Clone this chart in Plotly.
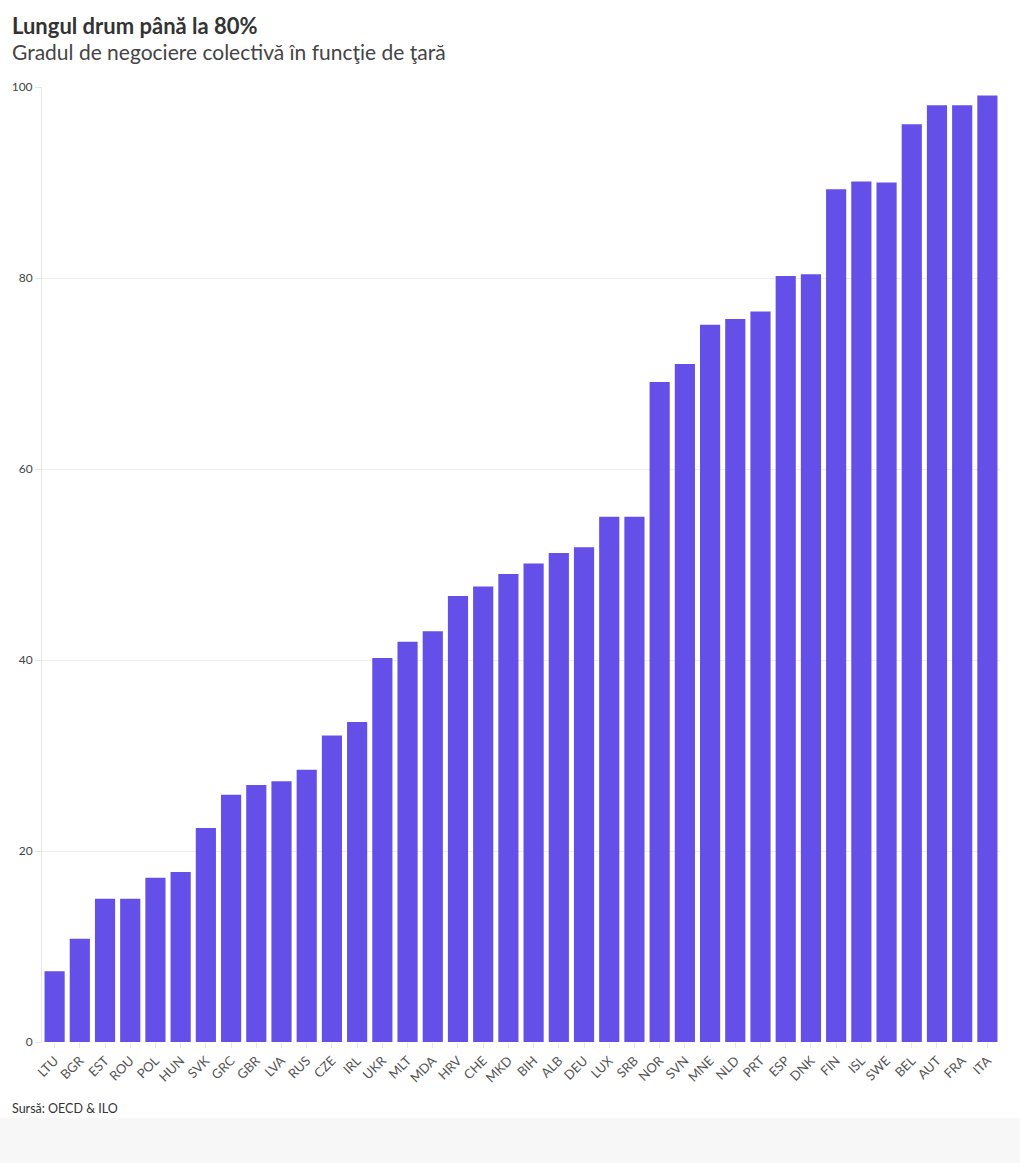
import plotly.graph_objects as go

# Gradul de negociere colectivă (%), sorted ascending
countries = ["LTU", "BGR", "EST", "ROU", "POL", "HUN", "SVK", "GRC", "GBR", "LVA",
             "RUS", "CZE", "IRL", "UKR", "MLT", "MDA", "HRV", "CHE", "MKD", "BIH",
             "ALB", "DEU", "LUX", "SRB", "NOR", "SVN", "MNE", "NLD", "PRT", "ESP",
             "DNK", "FIN", "ISL", "SWE", "BEL", "AUT", "FRA", "ITA"]
coverage = [7.4, 10.8, 15.0, 15.0, 17.2, 17.8, 22.4, 25.9, 26.9, 27.3,
            28.5, 32.1, 33.5, 40.2, 41.9, 43.0, 46.7, 47.7, 49.0, 50.1,
            51.2, 51.8, 55.0, 55.0, 69.1, 71.0, 75.1, 75.7, 76.5, 80.2,
            80.4, 89.3, 90.1, 90.0, 96.1, 98.1, 98.1, 99.1]
y_ticks = [0, 20, 40, 60, 80, 100]

FONT = "Lato, 'Noto Sans', sans-serif"
W, H = 1020, 1163
M = dict(l=42, r=20, t=87, b=121)
plot_w = W - M["l"] - M["r"]
plot_h = H - M["t"] - M["b"]


def px_x(x):
    return (x - M["l"]) / plot_w


def px_y(y):
    return (H - M["b"] - y) / plot_h


fig = go.Figure(go.Bar(x=countries, y=coverage, marker_color="#6450E8",
                       marker_line_width=0, hovertemplate="%{x}: %{y}<extra></extra>"))

fig.update_xaxes(tickangle=-45, tickfont=dict(size=13, color="#555"), ticks="outside",
                 ticklen=5, tickcolor="#e6e6e6", showgrid=False, showline=False)
fig.update_yaxes(range=[0, 100], tickvals=y_ticks, tickfont=dict(size=12, color="#444"),
                 gridcolor="#eeeeee", showline=True, linecolor="#e6e6e6", ticks="outside",
                 ticklen=6, tickcolor="#e6e6e6", zeroline=False)

# grey footer band at the bottom of the page
fig.add_shape(type="rect", xref="paper", yref="paper", x0=px_x(0), x1=px_x(W),
              y0=px_y(H), y1=px_y(1118), fillcolor="#f7f7f7", line_width=0, layer="below")

fig.update_layout(
    width=W, height=H, margin=M, bargap=0.2, template="plotly_white",
    plot_bgcolor="white", paper_bgcolor="white", font=dict(family=FONT, color="#333"),
    showlegend=False,
    annotations=[
        dict(text="<b>Lungul drum până la 80%</b>", xref="paper", yref="paper",
             x=px_x(10), y=px_y(25), xanchor="left", yanchor="middle", showarrow=False,
             font=dict(size=22, color="#333")),
        dict(text="Gradul de negociere colectivă în funcţie de ţară", xref="paper", yref="paper",
             x=px_x(10), y=px_y(51), xanchor="left", yanchor="middle", showarrow=False,
             font=dict(size=21, color="#444")),
        dict(text="Sursă: OECD & ILO", xref="paper", yref="paper",
             x=px_x(10), y=px_y(1108), xanchor="left", yanchor="middle",
             showarrow=False, font=dict(size=12.5, color="#333")),
    ],
)

fig.write_html("out.html", config={"displayModeBar": False},
               post_script="document.body.style.margin='0';")
